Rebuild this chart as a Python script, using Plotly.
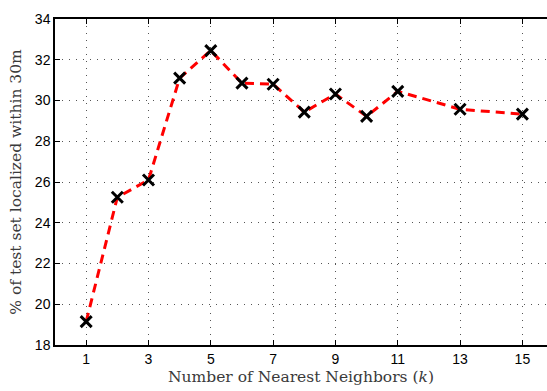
import plotly.graph_objects as go

# Number of nearest neighbours k and localization accuracy (%)
k_values = [1, 2, 3, 4, 5, 6, 7, 8, 9, 10, 11, 13, 15]
accuracy = [19.15, 25.25, 26.1, 31.1, 32.45, 30.85, 30.8, 29.43, 30.32, 29.22, 30.45, 29.57, 29.33]

x_ticks = [1, 3, 5, 7, 9, 11, 13, 15]
y_ticks = [18, 20, 22, 24, 26, 28, 30, 32, 34]

fig = go.Figure()
fig.add_trace(go.Scatter(
    x=k_values, y=accuracy,
    mode="lines+markers",
    line=dict(color="#ff0000", width=3, dash="9px,6px"),
    marker=dict(symbol="x-thin", size=11, color="black",
                line=dict(width=3, color="black")),
    showlegend=False,
))

tick_font = dict(family="Liberation Sans, Arial, sans-serif", size=14, color="black")
title_font = dict(family="DejaVu Serif, Liberation Serif, serif", size=15.5, color="#3a3a3a")

grid_style = dict(showgrid=True, gridcolor="#555555", griddash="1px,6px", gridwidth=1)

fig.update_layout(
    width=547, height=391,
    margin=dict(l=55, r=0, t=19, b=46),
    paper_bgcolor="white", plot_bgcolor="white",
    xaxis=dict(
        range=[0, 15.79], tickvals=x_ticks, ticktext=[str(v) for v in x_ticks],
        showline=True, linecolor="black", linewidth=1.5, mirror="ticks",
        ticks="inside", ticklen=5, tickcolor="black",
        zeroline=False, tickfont=tick_font,
        title=dict(text="Number of Nearest Neighbors (<i>k</i>)", font=title_font, standoff=6),
        **grid_style,
    ),
    yaxis=dict(
        range=[18, 34], tickvals=y_ticks, ticktext=[str(v) for v in y_ticks],
        showline=True, linecolor="black", linewidth=1.5,
        ticks="inside", ticklen=5, tickcolor="black",
        zeroline=False, tickfont=tick_font,
        title=dict(text="% of test set localized within 30m", font=title_font, standoff=9),
        **grid_style,
    ),
)

fig.write_html("out.html")
